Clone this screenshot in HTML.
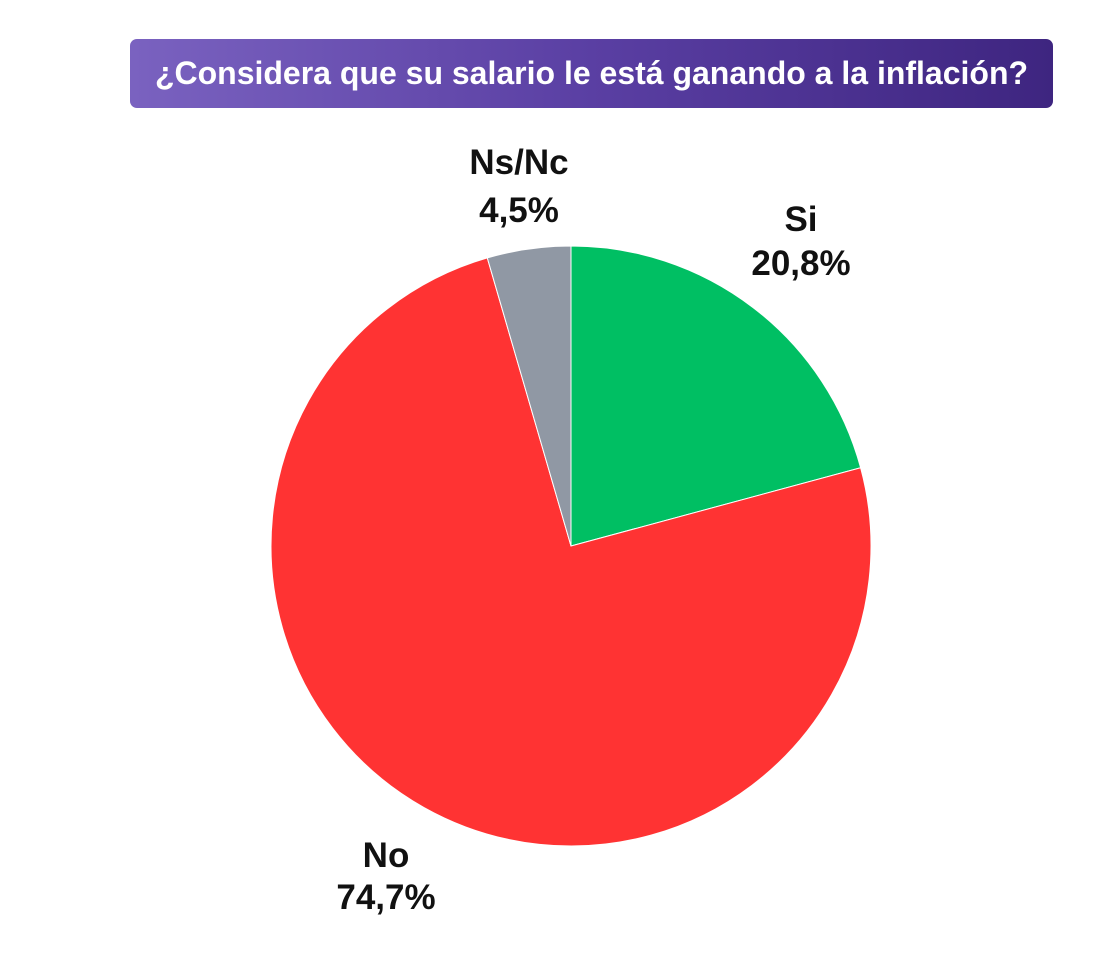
<!DOCTYPE html>
<html><head><meta charset="utf-8"><style>
html,body{margin:0;padding:0;background:#fff;width:1100px;height:959px;overflow:hidden;font-family:"Liberation Sans",sans-serif;}
#title{position:absolute;left:130px;top:39px;width:923px;height:69px;border-radius:7px;background:linear-gradient(90deg,#7a62c0,#5a3fa3 50%,#3e2580);color:#fff;font-weight:bold;font-size:32px;line-height:69px;text-align:center;white-space:nowrap;}
svg{position:absolute;left:0;top:0;}
.lbl{font-family:"Liberation Sans",sans-serif;font-weight:bold;font-size:35px;fill:#111;text-anchor:middle;}
</style></head><body>
<div id="title">¿Considera que su salario le está ganando a la inflación?</div>
<svg id="chart" width="1100" height="959"></svg>
<script>
const categories = ["Si","No","Ns/Nc"];
const values = [20.8, 74.7, 4.5];
const valueLabels = ["20,8%","74,7%","4,5%"];
const colors = ["#00bf63","#ff3333","#9098a4"];
const cx=571, cy=546, r=300;
const labelPos=[[801,231,275],[386,867,909],[519,174,222]];
const svg=document.getElementById('chart');
const NS="http://www.w3.org/2000/svg";
const total=values.reduce((a,b)=>a+b,0);
let a0=0;
function pt(a,rr){return [cx+rr*Math.sin(a), cy-rr*Math.cos(a)];}
values.forEach((v,i)=>{
  const a1=a0+v/total*2*Math.PI;
  const p0=pt(a0,r), p1=pt(a1,r);
  const large=(a1-a0)>Math.PI?1:0;
  const path=document.createElementNS(NS,'path');
  path.setAttribute('d',`M${cx},${cy} L${p0[0]},${p0[1]} A${r},${r} 0 ${large} 1 ${p1[0]},${p1[1]} Z`);
  path.setAttribute('fill',colors[i]);
  path.setAttribute('stroke','#fff');
  path.setAttribute('stroke-width','1');
  
  
  svg.appendChild(path);
  const lp=labelPos[i];
  const t1=document.createElementNS(NS,'text');
  t1.setAttribute('class','lbl');t1.setAttribute('x',lp[0]);t1.setAttribute('y',lp[1]);
  t1.textContent=categories[i];
  
  
  svg.appendChild(t1);
  const t2=document.createElementNS(NS,'text');
  t2.setAttribute('class','lbl');t2.setAttribute('x',lp[0]);t2.setAttribute('y',lp[2]);
  t2.textContent=valueLabels[i];
  
  
  svg.appendChild(t2);
  a0=a1;
});
</script>
</body></html>
